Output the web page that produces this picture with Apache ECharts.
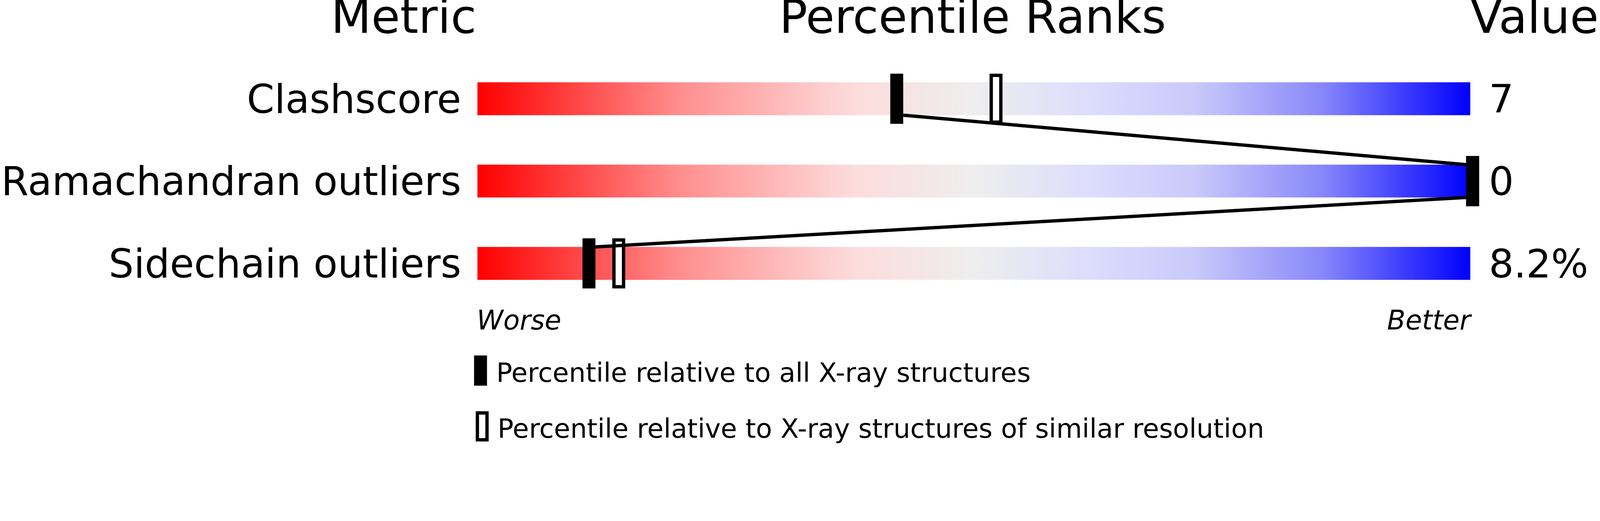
<!DOCTYPE html>
<html>
<head>
<meta charset="utf-8">
<script src="https://cdn.jsdelivr.net/npm/echarts@6/dist/echarts.min.js"></script>
<style>
html,body{margin:0;padding:0;background:#fff;overflow:hidden;}
#chart{width:100vw;height:100vh;}
</style>
</head>
<body>
<div id="chart"></div>
<script>
const metrics = ['Clashscore', 'Ramachandran outliers', 'Sidechain outliers'];
const valueLabels = ['7', '0', '8.2%'];
const percentileAll = [42, 100, 11];
const percentileSimilar = [52, 100, 14];
const scaleMax = [100, 100, 100];
const headers = ['Metric', 'Percentile Ranks', 'Value'];
const legendNames = ['Percentile relative to all X-ray structures', 'Percentile relative to X-ray structures of similar resolution'];

const FONT = 'DejaVu Sans';
const el = document.getElementById('chart');
const S = Math.min(el.clientWidth / 4823, el.clientHeight / 1333);
const k = v => v * S;
const MW = k(39), MH = k(151), BARW = k(99), MOFF = k(7);

const chart = echarts.init(el, null, {renderer: 'canvas'});

const grad = new echarts.graphic.LinearGradient(0, 0, 1, 0, [
  {offset: 0, color: '#ff0000'},
  {offset: 0.2, color: '#ff8c8c'},
  {offset: 0.38, color: '#fddcdc'},
  {offset: 0.5, color: '#eeeeee'},
  {offset: 0.62, color: '#dcdcfd'},
  {offset: 0.72, color: '#cacafb'},
  {offset: 0.85, color: '#8888fa'},
  {offset: 1, color: '#0000ff'}
]);

const segs = [];
for (let i = 0; i < metrics.length - 1; i++) {
  segs.push([percentileAll[i], i, percentileAll[i + 1], i + 1]);
}

const legendRich = padLeft => ({
  t: {fontSize: k(80), fontFamily: FONT, color: '#000', padding: [k(26), 0, 0, k(padLeft)]}
});

const option = {
  animation: false,
  backgroundColor: '#fff',
  grid: {left: k(1433), width: k(2999), top: k(173.5), height: k(744), containLabel: false},
  xAxis: {type: 'value', min: 0, max: 100, show: false},
  yAxis: {
    type: 'category', data: metrics, inverse: true,
    axisLine: {show: false}, axisTick: {show: false}, splitLine: {show: false},
    axisLabel: {fontSize: k(119), fontFamily: FONT, color: '#000', margin: k(49), verticalAlign: 'top', lineHeight: k(23)}
  },
  legend: [
    {
      orient: 'vertical', left: k(1429), top: k(1071), padding: 0,
      itemWidth: k(39), itemHeight: k(91), selectedMode: false,
      data: [{name: legendNames[0], icon: 'rect', itemStyle: {color: '#000', borderWidth: 0}}],
      formatter: n => '{t|' + n + '}',
      textStyle: {fontSize: k(80), fontFamily: FONT, color: '#000', rich: legendRich(22)}
    },
    {
      orient: 'vertical', left: k(1434), top: k(1239), padding: 0,
      itemWidth: k(29), itemHeight: k(81), selectedMode: false,
      data: [{name: legendNames[1], icon: 'rect', itemStyle: {color: '#fff', borderColor: '#000', borderWidth: k(10)}}],
      formatter: n => '{t|' + n + '}',
      textStyle: {fontSize: k(80), fontFamily: FONT, color: '#000', rich: legendRich(26)}
    }
  ],
  graphic: [
    {type: 'text', x: k(1436), y: k(62), style: {text: headers[0], font: k(141) + 'px "DejaVu Sans"', fill: '#000', textAlign: 'right', textVerticalAlign: 'middle'}},
    {type: 'text', x: k(2932), y: k(62), style: {text: headers[1], font: k(141) + 'px "DejaVu Sans"', fill: '#000', textAlign: 'center', textVerticalAlign: 'middle'}},
    {type: 'text', x: k(4432), y: k(62), style: {text: headers[2], font: k(141) + 'px "DejaVu Sans"', fill: '#000', textAlign: 'left', textVerticalAlign: 'middle'}},
    {type: 'text', x: k(1437), y: k(971), style: {text: 'Worse', font: 'italic ' + k(81) + 'px "DejaVu Sans"', fill: '#000', textAlign: 'left', textVerticalAlign: 'middle'}},
    {type: 'text', x: k(4433), y: k(971), style: {text: 'Better', font: 'italic ' + k(81) + 'px "DejaVu Sans"', fill: '#000', textAlign: 'right', textVerticalAlign: 'middle'}}
  ],
  series: [
    {
      type: 'bar', name: 'scale', data: scaleMax, barWidth: BARW, z: 1,
      itemStyle: {color: grad},
      label: {
        show: true, position: 'right', distance: k(56),
        fontSize: k(118), fontFamily: FONT, color: '#000', verticalAlign: 'top', lineHeight: k(23),
        formatter: p => valueLabels[p.dataIndex]
      },
      silent: true
    },
    {
      type: 'custom', name: legendNames[1], z: 3,
      data: percentileSimilar.map((v, i) => [v, i]),
      itemStyle: {color: '#fff', borderColor: '#000', borderWidth: k(10)},
      renderItem: (params, api) => {
        const pt = api.coord([api.value(0), api.value(1)]);
        const lw = k(10);
        return {type: 'rect', shape: {x: pt[0] + MOFF - MW / 2 + lw / 2, y: pt[1] - MH / 2 + lw / 2, width: MW - lw, height: MH - lw},
          style: {fill: '#fff', stroke: '#000', lineWidth: lw}};
      }
    },
    {
      type: 'custom', name: legendNames[0], z: 4,
      data: percentileAll.map((v, i) => [v, i]),
      itemStyle: {color: '#000'},
      renderItem: (params, api) => {
        const pt = api.coord([api.value(0), api.value(1)]);
        return {type: 'rect', shape: {x: pt[0] + MOFF - MW / 2, y: pt[1] - MH / 2, width: MW, height: MH}, style: {fill: '#000'}};
      }
    },
    {
      type: 'custom', name: 'connector', z: 5, silent: true,
      data: segs,
      renderItem: (params, api) => {
        const a = api.coord([api.value(0), api.value(1)]);
        const b = api.coord([api.value(2), api.value(3)]);
        const dir = b[0] >= a[0] ? 1 : -1;
        return {type: 'line', shape: {x1: a[0] + MOFF + dir * MW / 2, y1: a[1] + BARW / 2, x2: b[0] + MOFF - dir * MW / 2, y2: b[1] - BARW / 2},
          style: {stroke: '#000', lineWidth: k(10)}};
      }
    }
  ]
};
chart.setOption(option);
</script>
</body>
</html>
